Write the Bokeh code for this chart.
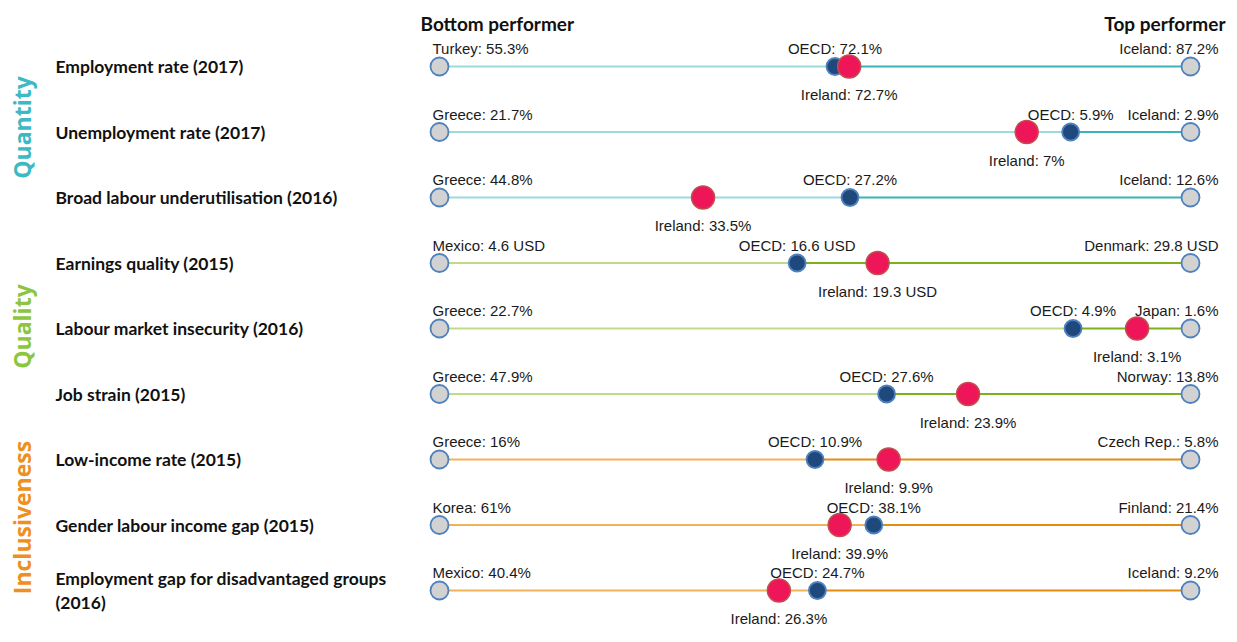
import math
from bokeh.plotting import figure
from bokeh.models import Range1d, ColumnDataSource
from bokeh.core.properties import value
from bokeh.embed import file_html
from bokeh.resources import INLINE

# ---------------- data ----------------
indicators = [
    "Employment rate (2017)",
    "Unemployment rate (2017)",
    "Broad labour underutilisation (2016)",
    "Earnings quality (2015)",
    "Labour market insecurity (2016)",
    "Job strain (2015)",
    "Low-income rate (2015)",
    "Gender labour income gap (2015)",
    "Employment gap for disadvantaged groups\n(2016)",
]
groups = ["Quantity", "Quality", "Inclusiveness"]
row_group = [0, 0, 0, 1, 1, 1, 2, 2, 2]
bottom_country = ["Turkey", "Greece", "Greece", "Mexico", "Greece", "Greece", "Greece", "Korea", "Mexico"]
bottom_value = [55.3, 21.7, 44.8, 4.6, 22.7, 47.9, 16, 61, 40.4]
top_country = ["Iceland", "Iceland", "Iceland", "Denmark", "Japan", "Norway", "Czech Rep.", "Finland", "Iceland"]
top_value = [87.2, 2.9, 12.6, 29.8, 1.6, 13.8, 5.8, 21.4, 9.2]
oecd_value = [72.1, 5.9, 27.2, 16.6, 4.9, 27.6, 10.9, 38.1, 24.7]
ireland_value = [72.7, 7, 33.5, 19.3, 3.1, 23.9, 9.9, 39.9, 26.3]
units = ["%", "%", "%", " USD", "%", "%", "%", "%", "%"]
header_left = "Bottom performer"
header_right = "Top performer"

# ---------------- styles ----------------
group_color = ["#3DB9C3", "#8CC63E", "#EE8F1E"]
line_light = ["#9BDADF", "#BEDC88", "#F3B25A"]
line_dark = ["#3AB4BA", "#7DB11C", "#E48C10"]
grey_fill, ring = "#D2D2D2", "#4F81BD"
oecd_fill = "#1F497D"
irl_fill, irl_line = "#EE1559", "#C0504D"

W, H = 1237, 642
X0, XSPAN = 439.0, 751.0     # px of bottom performer / span to top performer
Y0, YSTEP = 66.0, 65.5       # px of first row / row spacing

LBL_FONT = value("Liberation Sans")
BOLD_FONT = value("Lato")

n = len(indicators)
rows = list(range(n))


def frac(v, b, t):
    return (v - b) / (t - b)


f_oecd = [frac(o, b, t) for o, b, t in zip(oecd_value, bottom_value, top_value)]
f_irl = [frac(i, b, t) for i, b, t in zip(ireland_value, bottom_value, top_value)]


def fmt(c, v, u):
    return f"{c}: {v:g}{u}"


def px_x(px):
    return (px - X0) / XSPAN


def px_y(py):
    return (py - Y0) / YSTEP


p = figure(
    width=W, height=H,
    x_range=Range1d(px_x(0), px_x(W)),
    y_range=Range1d(px_y(H), px_y(0)),
    x_axis_location=None, y_axis_location=None,
    toolbar_location=None, output_backend="svg",
    min_border=0, outline_line_color=None,
)
p.xgrid.visible = False
p.ygrid.visible = False

src = ColumnDataSource(dict(
    y=rows,
    zero=[0.0] * n,
    one=[1.0] * n,
    oecd=f_oecd,
    irl=f_irl,
    light=[line_light[g] for g in row_group],
    dark=[line_dark[g] for g in row_group],
    name=indicators,
    lab_x=[px_x(55)] * n,
    bot_lab=[fmt(c, v, u) for c, v, u in zip(bottom_country, bottom_value, units)],
    top_lab=[fmt(c, v, u) for c, v, u in zip(top_country, top_value, units)],
    oecd_lab=[fmt("OECD", v, u) for v, u in zip(oecd_value, units)],
    irl_lab=[fmt("Ireland", v, u) for v, u in zip(ireland_value, units)],
))

# lines
p.segment(x0="zero", x1="oecd", y0="y", y1="y", line_color="light", line_width=2, source=src)
p.segment(x0="oecd", x1="one", y0="y", y1="y", line_color="dark", line_width=2, source=src)

# markers
p.scatter(x="zero", y="y", size=18, fill_color=grey_fill, line_color=ring, line_width=1.8, source=src)
p.scatter(x="one", y="y", size=18, fill_color=grey_fill, line_color=ring, line_width=1.8, source=src)
p.scatter(x="oecd", y="y", size=17, fill_color=oecd_fill, line_color=ring, line_width=1.8, source=src)
p.scatter(x="irl", y="y", size=23, fill_color=irl_fill, line_color=irl_line, line_width=1.5, source=src)

# value labels
common = dict(text_font=LBL_FONT, text_font_size="15px", text_color="#1a1a1a", source=src,
              text_baseline="middle")
p.text(x="zero", y="y", text="bot_lab", text_align="left", x_offset=-7, y_offset=-18, **common)
p.text(x="one", y="y", text="top_lab", text_align="right", x_offset=28, y_offset=-18, **common)
p.text(x="oecd", y="y", text="oecd_lab", text_align="center", x_offset=0, y_offset=-18, **common)
p.text(x="irl", y="y", text="irl_lab", text_align="center", x_offset=0, y_offset=28, **common)

# row labels
p.text(x="lab_x", y="y", text="name", text_align="left", text_baseline="middle",
       text_font=BOLD_FONT, text_font_style="bold", text_font_size="17.5px",
       text_color="#111111", text_line_height=1.15, source=src)

# group labels
gsrc = ColumnDataSource(dict(
    x=[px_x(21)] * 3,
    y=[px_y(127), px_y(326), px_y(517)],
    t=groups,
    c=group_color,
))
p.text(x="x", y="y", text="t", text_color="c", angle=math.pi / 2, text_align="center",
       text_baseline="middle", text_font=value("Open Sans"), text_font_style="bold",
       text_font_size="23px", source=gsrc)

# headers
hsrc = ColumnDataSource(dict(
    x=[px_x(420), px_x(1225)],
    y=[px_y(23)] * 2,
    t=[header_left, header_right],
    a=["left", "right"],
))
p.text(x="x", y="y", text="t", text_align="a", text_baseline="alphabetic",
       text_font=BOLD_FONT, text_font_style="bold", text_font_size="19px",
       text_color="#111111", source=hsrc)

open("out.html", "w").write(file_html(p, INLINE))
